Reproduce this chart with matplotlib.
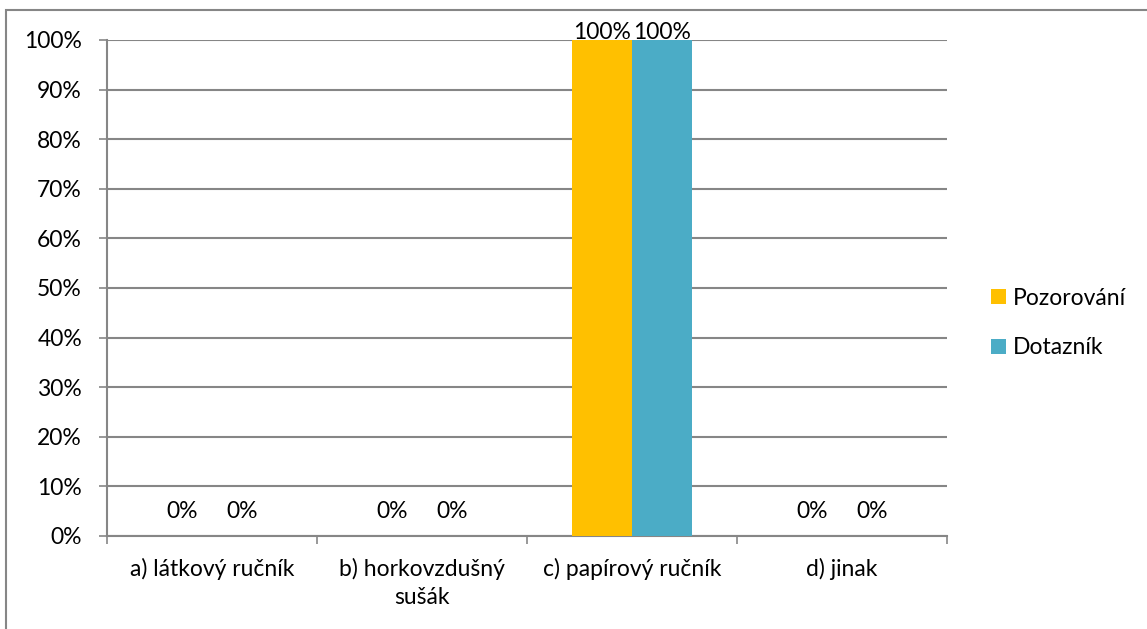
import matplotlib
matplotlib.use('Agg')
import matplotlib.pyplot as plt
import numpy as np
from matplotlib.patches import Rectangle

plt.rcParams['font.family'] = ['Lato', 'DejaVu Sans']

categories = ['a) látkový ručník', 'b) horkovzdušný\nsušák', 'c) papírový ručník', 'd) jinak']
pozorovani = [0, 0, 100, 0]
dotaznik = [0, 0, 100, 0]
series_names = ['Pozorování', 'Dotazník']
colors = ['#FFC000', '#4BACC6']
fs = 16.5

fig = plt.figure(figsize=(11.47, 6.29), dpi=100)
ax = fig.add_axes([107/1147, 1-536/629, 840/1147, 496/629])

x = np.arange(len(categories))
w = 2/7
bars1 = ax.bar(x - w/2, pozorovani, w, color=colors[0], label=series_names[0], zorder=3)
bars2 = ax.bar(x + w/2, dotaznik, w, color=colors[1], label=series_names[1], zorder=3)

for bars, vals in [(bars1, pozorovani), (bars2, dotaznik)]:
    for b, v in zip(bars, vals):
        off = -3 if v > 0 else 14
        ax.annotate(f'{v}%', (b.get_x() + b.get_width()/2, v), xytext=(0, off),
                    textcoords='offset pixels', ha='center', va='bottom', fontsize=fs,
                    zorder=4)

ax.set_xlim(-0.5, len(categories) - 0.5)
ax.set_ylim(0, 100)
ax.set_yticks(np.arange(0, 101, 10))
ax.set_yticklabels([f'{v}%' for v in range(0, 101, 10)], fontsize=fs)
ax.yaxis.grid(True, color='#868686', linewidth=1.5, zorder=0)

ax.set_xticks(np.arange(-0.5, len(categories), 1))
ax.set_xticklabels([])
ax.set_xticks(x, minor=True)
ax.set_xticklabels(categories, minor=True, fontsize=fs, linespacing=1.4)
ax.tick_params(axis='x', which='minor', length=0, pad=16)
ax.tick_params(axis='x', which='major', length=6, color='#868686', width=1.2)
ax.tick_params(axis='y', length=6, color='#868686', width=1.2, pad=12)

for s in ['top', 'right']:
    ax.spines[s].set_visible(False)
for s in ['left', 'bottom']:
    ax.spines[s].set_color('#868686')
    ax.spines[s].set_linewidth(1.5)

fig.legend(loc='center left', bbox_to_anchor=(970/1147, 1-323/629), frameon=False,
           fontsize=fs, handlelength=0.65, handleheight=0.65, labelspacing=1.25,
           handletextpad=0.3)

fig.patches.append(Rectangle((6/1147, -0.05), 1.1, 1.05 - 10/629, transform=fig.transFigure,
                             fill=False, edgecolor='#868686', linewidth=1.5))

fig.savefig('out.png', dpi=100)
